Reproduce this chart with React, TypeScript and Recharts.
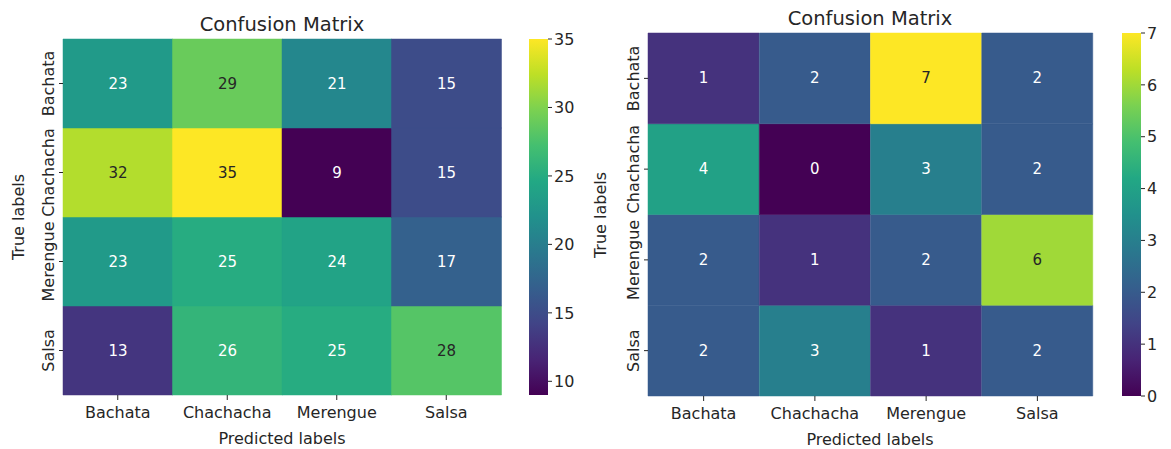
import React from 'react';
import { BarChart, Bar, XAxis, YAxis, Cell, LabelList } from 'recharts';

const predictedLabels = ['Bachata', 'Chachacha', 'Merengue', 'Salsa'];
const trueLabels = ['Bachata', 'Chachacha', 'Merengue', 'Salsa'];

// rows = true labels, columns = predicted labels
const leftMatrix = [
  [23, 29, 21, 15],
  [32, 35, 9, 15],
  [23, 25, 24, 17],
  [13, 26, 25, 28],
];
const rightMatrix = [
  [1, 2, 7, 2],
  [4, 0, 3, 2],
  [2, 1, 2, 6],
  [2, 3, 1, 2],
];

const leftBarTicks = [10, 15, 20, 25, 30, 35];
const rightBarTicks = [0, 1, 2, 3, 4, 5, 6, 7];

const viridis = [
  '#440154', '#482475', '#414487', '#355f8d', '#2a788e', '#21918c',
  '#22a884', '#44bf70', '#7ad151', '#bddf26', '#fde725',
];

const FONT = '"DejaVu Sans", sans-serif';
const TEXT = '#262626';
const TICK_SIZE = 16;

const hexToRgb = (h: string) => [1, 3, 5].map((i) => parseInt(h.slice(i, i + 2), 16));

function viridisColor(t: number) {
  const tt = Math.max(0, Math.min(1, t)) * (viridis.length - 1);
  const i = Math.min(Math.floor(tt), viridis.length - 2);
  const f = tt - i;
  const a = hexToRgb(viridis[i]);
  const b = hexToRgb(viridis[i + 1]);
  const c = a.map((v, k) => Math.round(v + (b[k] - v) * f));
  return `rgb(${c[0]},${c[1]},${c[2]})`;
}

function luminance(rgb: string) {
  const [r, g, b] = rgb.match(/\d+/g)!.map((v) => {
    const s = Number(v) / 255;
    return s <= 0.03928 ? s / 12.92 : Math.pow((s + 0.055) / 1.055, 2.4);
  });
  return 0.2126 * r + 0.7152 * g + 0.0722 * b;
}

function buildRows(matrix: number[][]) {
  return predictedLabels.map((pred, j) => {
    const row: any = { pred };
    trueLabels.forEach((_, i) => {
      row[`cell${i}`] = 1;
      row[`val${i}`] = matrix[i][j];
    });
    return row;
  });
}

const YTick = (props: any) => {
  const { x, y, payload } = props;
  const idx = trueLabels.length - 1 - Math.floor(payload.value);
  return (
    <text transform={`translate(${x - 3},${y}) rotate(-90)`} textAnchor="middle"
      fontSize={TICK_SIZE} fontFamily={FONT} fill={TEXT}>
      {trueLabels[idx]}
    </text>
  );
};

type PanelProps = {
  matrix: number[][];
  vmin: number;
  vmax: number;
  barTicks: number[];
  id: string;
  left: number;
  top: number;
  plotW: number;
  plotH: number;
  cbLeft: number;
};

function Panel({ matrix, vmin, vmax, barTicks, id, left, top, plotW, plotH, cbLeft }: PanelProps) {
  const rows = buildRows(matrix);
  const colorOf = (v: number) => viridisColor((v - vmin) / (vmax - vmin));
  const bottom = 449 - top - plotH;
  const yw = 50;

  const cellLabel = (props: any) => {
    const vb = props.viewBox || {};
    const x = props.x ?? vb.x;
    const y = props.y ?? vb.y;
    const w = props.width ?? vb.width;
    const h = props.height ?? vb.height;
    const v = props.value;
    const fill = luminance(colorOf(v)) > 0.408 ? TEXT : '#ffffff';
    return (
      <text x={x + w / 2} y={y + h / 2} textAnchor="middle" dominantBaseline="central"
        fontSize={15} fontFamily={FONT} fill={fill}>
        {v}
      </text>
    );
  };

  // stack from the bottom row (last true label) upwards
  const order = trueLabels.map((_, i) => i).reverse();

  return (
    <>
      <div style={{ position: 'absolute', left: left - yw - 13, top: 0 }}>
        <BarChart width={plotW + yw + 13 + 10} height={449} data={rows}
          margin={{ top, right: 10, bottom: bottom - 30, left: 13 }}
          barCategoryGap={0} barGap={0}>
          <XAxis dataKey="pred" height={30} axisLine={false} tickSize={5} tickMargin={7}
            tickLine={{ stroke: TEXT }}
            tick={{ fontSize: TICK_SIZE, fontFamily: FONT, fill: TEXT }} interval={0} />
          <YAxis type="number" domain={[0, 4]} ticks={[0.5, 1.5, 2.5, 3.5]} width={yw}
            axisLine={false} tickSize={4} tickLine={{ stroke: TEXT }} tick={<YTick />} />
          {order.map((i) => (
            <Bar key={i} dataKey={`cell${i}`} stackId="m" isAnimationActive={false}>
              {rows.map((_, j) => (
                <Cell key={j} fill={colorOf(matrix[i][j])} stroke={colorOf(matrix[i][j])} strokeWidth={0.5} />
              ))}
              <LabelList dataKey={`val${i}`} content={cellLabel} />
            </Bar>
          ))}
        </BarChart>
      </div>
      <div style={{ position: 'absolute', left: cbLeft, top: 0 }}>
        <BarChart width={19 + 40} height={449} data={[{ name: 'cb', range: [vmin, vmax] }]}
          margin={{ top, right: 0, bottom, left: 0 }} barCategoryGap={0}>
          <defs>
            <linearGradient id={id} x1="0" y1="1" x2="0" y2="0">
              {viridis.map((c, k) => (
                <stop key={k} offset={`${(k / (viridis.length - 1)) * 100}%`} stopColor={c} />
              ))}
            </linearGradient>
          </defs>
          <XAxis dataKey="name" hide />
          <YAxis orientation="right" type="number" domain={[vmin, vmax]} ticks={barTicks}
            width={40} axisLine={false} tickSize={4} tickMargin={2} tickLine={{ stroke: TEXT }}
            tick={{ fontSize: TICK_SIZE, fontFamily: FONT, fill: TEXT }} />
          <Bar dataKey="range" fill={`url(#${id})`} isAnimationActive={false} />
        </BarChart>
      </div>
    </>
  );
}

export default function App() {
  return (
    <div style={{ position: 'absolute', left: 0, top: 0, width: 1171, height: 449, background: '#fff' }}>
      <Panel matrix={leftMatrix} vmin={9} vmax={35} barTicks={leftBarTicks} id="cbLeft"
        left={63} top={39} plotW={438} plotH={356} cbLeft={529} />
      <Panel matrix={rightMatrix} vmin={0} vmax={7} barTicks={rightBarTicks} id="cbRight"
        left={648} top={33} plotW={445} plotH={363} cbLeft={1122} />
      <svg width={1171} height={449} style={{ position: 'absolute', left: 0, top: 0, pointerEvents: 'none' }}
        fontFamily={FONT} fill={TEXT}>
        <text x={282} y={24} textAnchor="middle" dominantBaseline="central" fontSize={19.5}>Confusion Matrix</text>
        <text x={282} y={438} textAnchor="middle" dominantBaseline="central" fontSize={16}>Predicted labels</text>
        <text transform="translate(18,217) rotate(-90)" textAnchor="middle" dominantBaseline="central" fontSize={16}>True labels</text>
        <text x={870} y={18} textAnchor="middle" dominantBaseline="central" fontSize={19.5}>Confusion Matrix</text>
        <text x={870} y={439} textAnchor="middle" dominantBaseline="central" fontSize={16}>Predicted labels</text>
        <text transform="translate(600,215) rotate(-90)" textAnchor="middle" dominantBaseline="central" fontSize={16}>True labels</text>
      </svg>
    </div>
  );
}
